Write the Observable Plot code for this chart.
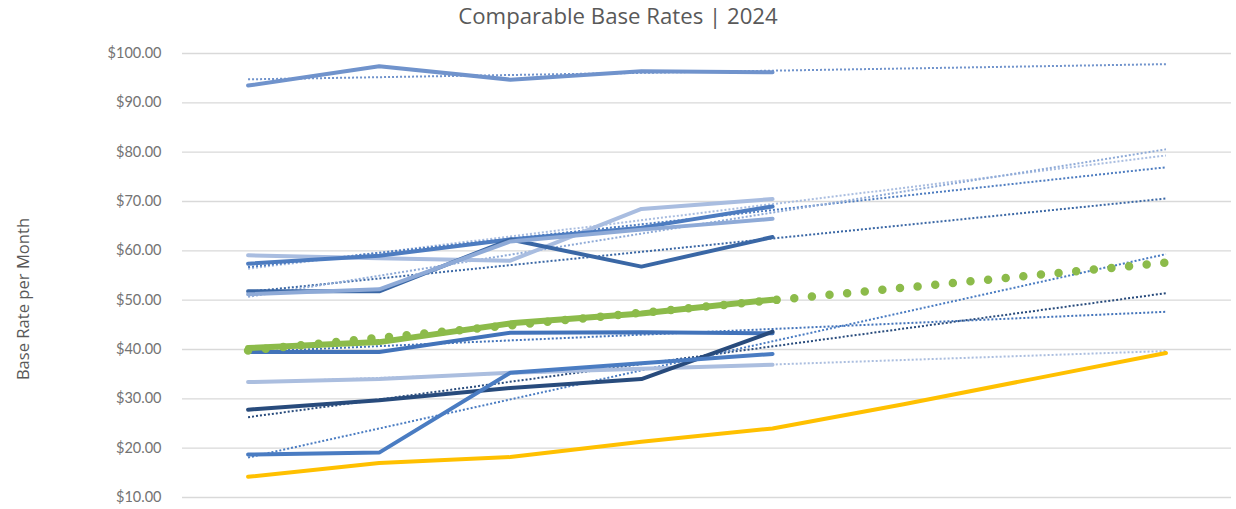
<!DOCTYPE html>
<html>
<head>
<meta charset="utf-8">
<script src="https://cdn.jsdelivr.net/npm/d3@7"></script>
<script src="https://cdn.jsdelivr.net/npm/@observablehq/plot@0.6"></script>
<style>
  body { margin: 0; background: #fff; position: relative; }
  #title {
    height: 32px; line-height: 32px; text-align: center;
    font-family: "Open Sans", Lato, sans-serif; font-size: 22.2px; color: #595959;
  }
  #ylabel {
    position: absolute; left: 22px; top: 299px;
    transform: translate(-50%, -50%) rotate(-90deg);
    white-space: nowrap;
    font-family: "Open Sans", Lato, sans-serif; font-size: 16.6px; color: #595959;
  }
</style>
</head>
<body>
<div id="title">Comparable Base Rates | 2024</div>
<div id="chart"></div>
<div id="ylabel">Base Rate per Month</div>
<script>
// Period index: 0–4 are observed, 5–7 are the forecast reach of the trend lines.
const periods = [0, 1, 2, 3, 4, 5, 6, 7];
const forecastEnd = 7;

// Monthly base rates per comparable (dollars)
const rate01 = [93.5, 97.4, 94.7, 96.4, 96.2];
const rate02 = [59.1, 58.5, 58.0, 68.5, 70.5];
const rate03 = [57.4, 59.0, 62.3, 64.7, 69.0];
const rate04 = [51.8, 51.8, 62.3, 56.8, 62.8];
const rate05 = [51.2, 52.2, 61.9, 64.3, 66.5];
const rate06 = [39.5, 39.5, 43.4, 43.5, 43.3];
const rate07 = [33.4, 34.0, 35.3, 36.1, 36.9];
const rate08 = [27.8, 29.7, 32.2, 34.0, 43.6];
const rate09 = [18.7, 19.1, 35.3, 37.2, 39.1];
// Highlighted comparable (green) and the projected rate path (gold)
const rateFocus = [40.3, 41.5, 45.3, 47.3, 50.1];
const rateProjected = [14.2, 17.0, 18.2, 21.3, 24.0, 28.9, 34.1, 39.3];

const yTicks = [10, 20, 30, 40, 50, 60, 70, 80, 90, 100];

const blueSeries = [
  {name: "Comparable 1", values: rate01, color: "#7093cc"},
  {name: "Comparable 2", values: rate02, color: "#a9bde0"},
  {name: "Comparable 3", values: rate03, color: "#4d7cc0"},
  {name: "Comparable 4", values: rate04, color: "#3a67a5"},
  {name: "Comparable 5", values: rate05, color: "#8eaad7"},
  {name: "Comparable 6", values: rate06, color: "#4273ba"},
  {name: "Comparable 7", values: rate07, color: "#abbedf"},
  {name: "Comparable 8", values: rate08, color: "#284b7c"},
  {name: "Comparable 9", values: rate09, color: "#4a7cc2"}
];
const focusColor = "#8cbb4a";
const projectedColor = "#ffc000";

// Long-format rows for the observed points
const toRows = (s) => s.values.map((v, i) => ({name: s.name, period: periods[i], rate: v, color: s.color}));

// Least-squares linear trend over the observed points, extended to the forecast end
function trendRows(s) {
  const xs = s.values.map((_, i) => periods[i]);
  const mx = d3.mean(xs), my = d3.mean(s.values);
  const slope = d3.sum(xs, (x, i) => (x - mx) * (s.values[i] - my)) / d3.sum(xs, (x) => (x - mx) ** 2);
  const at = (x) => my + slope * (x - mx);
  return [periods[0], forecastEnd].map((x) => ({name: s.name, period: x, rate: at(x), color: s.color}));
}

const blueRows = blueSeries.flatMap(toRows);
const blueTrends = blueSeries.flatMap(trendRows);
const focus = {name: "Focus", values: rateFocus, color: focusColor};
const focusRows = toRows(focus);
const focusTrend = trendRows(focus);
const projectedRows = rateProjected.map((v, i) => ({period: periods[i], rate: v}));

const chart = Plot.plot({
  width: 1236,
  height: 477,
  marginLeft: 182,
  marginRight: 5,
  marginTop: 21,
  marginBottom: 12,
  style: {fontFamily: "Lato, 'Open Sans', sans-serif", fontSize: "14.5px", color: "#737373", background: "#fff"},
  x: {domain: [-0.5, 7.5], axis: null},
  y: {domain: [10, 100], axis: null},
  marks: [
    Plot.gridY(yTicks, {stroke: "#d9d9d9", strokeOpacity: 1, strokeWidth: 1.4}),
    Plot.axisY(yTicks, {
      label: null, tickSize: 0, tickPadding: 21,
      tickFormat: (d) => "$" + d.toFixed(2), fill: "#737373"
    }),
    // trend lines of the comparables
    Plot.line(blueTrends, {
      x: "period", y: "rate", z: "name", stroke: "color",
      strokeWidth: 2, strokeDasharray: "2 2", strokeLinecap: "butt"
    }),
    // observed rates
    Plot.line(blueRows, {
      x: "period", y: "rate", z: "name", stroke: "color",
      strokeWidth: 4, strokeLinejoin: "miter"
    }),
    Plot.line(focusRows, {x: "period", y: "rate", stroke: focusColor, strokeWidth: 6}),
    Plot.line(focusTrend, {
      x: "period", y: "rate", stroke: focusColor,
      strokeWidth: 8.5, strokeDasharray: "0 17.7", strokeLinecap: "round"
    }),
    Plot.line(projectedRows, {x: "period", y: "rate", stroke: projectedColor, strokeWidth: 4})
  ]
});
document.getElementById("chart").appendChild(chart);
</script>
</body>
</html>
